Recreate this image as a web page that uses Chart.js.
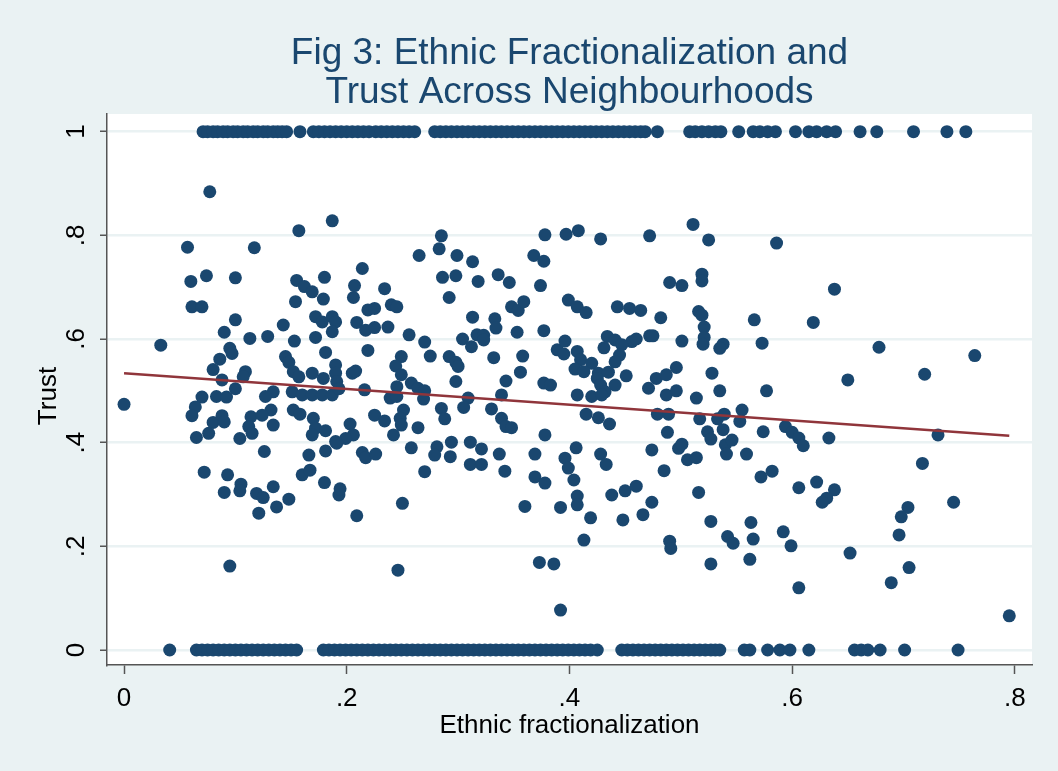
<!DOCTYPE html>
<html>
<head>
<meta charset="utf-8">
<title>Fig 3: Ethnic Fractionalization and Trust Across Neighbourhoods</title>
<script src="https://cdn.jsdelivr.net/npm/chart.js@4.4.1/dist/chart.umd.min.js"></script>
<style>
  html, body { margin: 0; padding: 0; background: #EAF2F3; }
  canvas { display: block; }
</style>
</head>
<body>
<canvas id="canvas" width="1058" height="771"></canvas>
<script>
const titleLines = ['Fig 3: Ethnic Fractionalization and', 'Trust Across Neighbourhoods'];
const xTitle = 'Ethnic fractionalization';
const yTitle = 'Trust';

const xTicks = [0, 0.2, 0.4, 0.6, 0.8];
const xTickLabels = ['0', '.2', '.4', '.6', '.8'];
const yTicks = [0, 0.2, 0.4, 0.6, 0.8, 1];
const yTickLabels = ['0', '.2', '.4', '.6', '.8', '1'];

// neighbourhoods where everyone trusts (trust = 1)
const oneX = [
  0.071, 0.075, 0.080, 0.084, 0.089, 0.093, 0.098, 0.102, 0.107, 0.111,
  0.116, 0.120, 0.125, 0.129, 0.134, 0.138, 0.142, 0.146, 0.158,
  0.170, 0.175, 0.180, 0.185, 0.190, 0.195, 0.200, 0.205, 0.210, 0.215,
  0.220, 0.226, 0.231, 0.236, 0.241, 0.246, 0.251, 0.256, 0.261,
  0.279, 0.284, 0.289, 0.294, 0.299, 0.304, 0.309, 0.314, 0.319, 0.324,
  0.329, 0.334, 0.339, 0.344, 0.349, 0.354, 0.359, 0.364, 0.369, 0.374,
  0.379, 0.384, 0.389, 0.394, 0.399, 0.404, 0.409, 0.414, 0.419, 0.424,
  0.429, 0.434, 0.439, 0.444, 0.449, 0.454, 0.459, 0.464, 0.468, 0.479,
  0.508, 0.513, 0.519, 0.525, 0.531, 0.536, 0.552,
  0.565, 0.571, 0.578, 0.585, 0.603, 0.615, 0.622, 0.631, 0.639,
  0.661, 0.676, 0.709, 0.739, 0.756
];

// neighbourhoods where nobody trusts (trust = 0)
const zeroX = [
  0.041,
  0.065, 0.070, 0.075, 0.080, 0.085, 0.090, 0.095, 0.100, 0.105, 0.110,
  0.115, 0.120, 0.125, 0.130, 0.135, 0.140, 0.145, 0.150, 0.155,
  0.179, 0.184, 0.189, 0.194, 0.199, 0.204, 0.209, 0.214, 0.219, 0.224,
  0.229, 0.234, 0.239, 0.244, 0.249, 0.254, 0.259, 0.264, 0.269, 0.274,
  0.279, 0.284, 0.289, 0.294, 0.299, 0.304, 0.309, 0.314, 0.319, 0.324,
  0.329, 0.334, 0.339, 0.344, 0.349, 0.354, 0.359, 0.364, 0.369, 0.374,
  0.379, 0.384, 0.389, 0.394, 0.399, 0.404, 0.409, 0.414, 0.419, 0.425,
  0.447, 0.452, 0.457, 0.462, 0.467, 0.472, 0.477, 0.482, 0.487, 0.492,
  0.497, 0.502, 0.507, 0.512, 0.517, 0.522, 0.527, 0.531, 0.535,
  0.557, 0.562, 0.578, 0.589, 0.598, 0.615,
  0.656, 0.662, 0.668, 0.679, 0.701, 0.749
];

// everything in between
const midX = [
  0.077, 0.157, 0.187, 0.057, 0.117, 0.060, 0.074, 0.100, 0.155, 0.162,
  0.169, 0.180, 0.061, 0.070, 0.154, 0.179, 0.100, 0.090, 0.113, 0.129,
  0.143, 0.153, 0.172, 0.172, 0.178, 0.187, 0.190, 0.187, 0.033, 0.095,
  0.097, 0.086, 0.080, 0.088, 0.109, 0.107, 0.100, 0.145, 0.148, 0.152,
  0.157, 0.181, 0.190, 0.169, 0.179, 0.190, 0.000, 0.070, 0.083, 0.092,
  0.134, 0.127, 0.151, 0.160, 0.169, 0.178, 0.187,

  0.064, 0.061, 0.080, 0.088, 0.090, 0.065, 0.076, 0.114, 0.112, 0.104,
  0.115, 0.132, 0.134, 0.124, 0.152, 0.158, 0.170, 0.172, 0.169, 0.181,
  0.190, 0.181, 0.126, 0.166, 0.072, 0.093, 0.090, 0.105, 0.104, 0.119,
  0.125, 0.134, 0.137, 0.148, 0.121, 0.160, 0.167, 0.180, 0.193, 0.095,

  0.285, 0.378, 0.397, 0.283, 0.265, 0.299, 0.313, 0.368, 0.377, 0.214,
  0.286, 0.298, 0.318, 0.336, 0.346, 0.374, 0.399, 0.207, 0.206, 0.234,
  0.292, 0.219, 0.225, 0.240, 0.245, 0.209, 0.217, 0.225, 0.237, 0.256,
  0.270, 0.313, 0.333, 0.334, 0.353, 0.377, 0.348, 0.354, 0.359, 0.304,
  0.312, 0.317, 0.323, 0.323, 0.219, 0.249, 0.244, 0.249, 0.275, 0.292,
  0.298, 0.300, 0.332, 0.358, 0.356, 0.343, 0.298, 0.377, 0.383, 0.389,
  0.395, 0.205, 0.208, 0.216, 0.245, 0.258, 0.264, 0.270, 0.191, 0.193,
  0.339, 0.309, 0.239,

  0.245, 0.269, 0.251, 0.248, 0.249, 0.225, 0.234, 0.203, 0.206, 0.199,
  0.191, 0.242, 0.264, 0.285, 0.288, 0.305, 0.330, 0.339, 0.343, 0.348,
  0.378, 0.214, 0.217, 0.226, 0.258, 0.281, 0.279, 0.293, 0.294, 0.311,
  0.321, 0.311, 0.321, 0.337, 0.342, 0.270, 0.369, 0.369, 0.378, 0.396,
  0.399, 0.194, 0.250, 0.209, 0.360, 0.392, 0.246, 0.373, 0.386, 0.392,

  0.408, 0.428, 0.472, 0.511, 0.525, 0.586, 0.490, 0.501, 0.519, 0.519,
  0.407, 0.415, 0.443, 0.454, 0.464, 0.482, 0.516, 0.519, 0.566, 0.521,
  0.521, 0.520, 0.501, 0.538, 0.535, 0.573, 0.472, 0.475, 0.456, 0.460,
  0.434, 0.441, 0.447, 0.445, 0.441, 0.431, 0.396, 0.407, 0.410, 0.420,
  0.405, 0.413, 0.426, 0.425, 0.435, 0.428, 0.441, 0.432, 0.451, 0.471,
  0.478, 0.487, 0.496, 0.487, 0.496, 0.528, 0.535, 0.577, 0.514, 0.407,
  0.420,

  0.429, 0.415, 0.426, 0.436, 0.479, 0.489, 0.488, 0.517, 0.524, 0.527,
  0.533, 0.539, 0.538, 0.555, 0.553, 0.574, 0.594, 0.600, 0.606, 0.406,
  0.404, 0.428, 0.433, 0.474, 0.498, 0.501, 0.506, 0.514, 0.540, 0.546,
  0.541, 0.559, 0.485, 0.572, 0.582, 0.606, 0.407, 0.407, 0.438, 0.450,
  0.460, 0.474, 0.419, 0.448, 0.466, 0.516, 0.527, 0.563, 0.565, 0.542,
  0.547, 0.413, 0.490, 0.491, 0.527, 0.562, 0.592, 0.599, 0.606,

  0.610, 0.633, 0.731, 0.717, 0.622, 0.638, 0.631, 0.627, 0.704, 0.698,
  0.745, 0.696, 0.652, 0.705, 0.689, 0.795, 0.638, 0.619, 0.678, 0.764,
  0.650, 0.719
];
const midY = [
  0.884, 0.809, 0.828, 0.777, 0.776, 0.711, 0.722, 0.718, 0.713, 0.701,
  0.691, 0.719, 0.662, 0.662, 0.672, 0.677, 0.637, 0.613, 0.601, 0.605,
  0.627, 0.596, 0.603, 0.643, 0.633, 0.643, 0.633, 0.614, 0.588, 0.582,
  0.572, 0.561, 0.541, 0.521, 0.537, 0.527, 0.504, 0.566, 0.555, 0.537,
  0.527, 0.574, 0.550, 0.534, 0.524, 0.534, 0.474, 0.488, 0.489, 0.488,
  0.498, 0.489, 0.498, 0.492, 0.492, 0.492, 0.492,

  0.469, 0.452, 0.439, 0.452, 0.440, 0.410, 0.418, 0.450, 0.431, 0.408,
  0.418, 0.463, 0.434, 0.453, 0.463, 0.455, 0.447, 0.428, 0.415, 0.423,
  0.402, 0.384, 0.383, 0.376, 0.343, 0.338, 0.304, 0.320, 0.307, 0.302,
  0.294, 0.315, 0.276, 0.291, 0.264, 0.338, 0.347, 0.323, 0.299, 0.162,

  0.799, 0.801, 0.802, 0.774, 0.761, 0.761, 0.749, 0.761, 0.750, 0.736,
  0.719, 0.722, 0.711, 0.724, 0.709, 0.703, 0.675, 0.703, 0.680, 0.697,
  0.680, 0.656, 0.659, 0.666, 0.662, 0.632, 0.617, 0.622, 0.623, 0.608,
  0.594, 0.642, 0.639, 0.621, 0.613, 0.616, 0.662, 0.655, 0.672, 0.600,
  0.585, 0.608, 0.607, 0.598, 0.578, 0.566, 0.548, 0.531, 0.567, 0.566,
  0.555, 0.547, 0.564, 0.567, 0.536, 0.519, 0.518, 0.515, 0.511, 0.579,
  0.571, 0.534, 0.538, 0.502, 0.508, 0.515, 0.505, 0.500, 0.518, 0.504,
  0.492, 0.486, 0.486,

  0.489, 0.484, 0.463, 0.447, 0.434, 0.453, 0.442, 0.436, 0.415, 0.408,
  0.399, 0.415, 0.429, 0.466, 0.446, 0.468, 0.465, 0.447, 0.431, 0.429,
  0.415, 0.381, 0.371, 0.378, 0.390, 0.392, 0.376, 0.373, 0.401, 0.401,
  0.388, 0.358, 0.358, 0.378, 0.345, 0.344, 0.378, 0.334, 0.322, 0.370,
  0.351, 0.311, 0.283, 0.259, 0.277, 0.275, 0.154, 0.169, 0.166, 0.077,

  0.809, 0.793, 0.799, 0.821, 0.791, 0.785, 0.709, 0.703, 0.725, 0.712,
  0.662, 0.651, 0.662, 0.659, 0.655, 0.641, 0.653, 0.646, 0.637, 0.623,
  0.603, 0.590, 0.596, 0.590, 0.582, 0.592, 0.606, 0.606, 0.595, 0.600,
  0.605, 0.598, 0.589, 0.569, 0.556, 0.583, 0.596, 0.576, 0.560, 0.553,
  0.542, 0.537, 0.534, 0.524, 0.536, 0.511, 0.511, 0.498, 0.529, 0.505,
  0.524, 0.531, 0.545, 0.492, 0.500, 0.534, 0.500, 0.500, 0.486, 0.492,
  0.489,

  0.492, 0.455, 0.448, 0.436, 0.455, 0.455, 0.420, 0.446, 0.421, 0.407,
  0.446, 0.455, 0.425, 0.463, 0.441, 0.421, 0.431, 0.420, 0.409, 0.390,
  0.328, 0.378, 0.358, 0.386, 0.389, 0.397, 0.367, 0.371, 0.396, 0.405,
  0.378, 0.378, 0.346, 0.334, 0.345, 0.313, 0.297, 0.280, 0.299, 0.307,
  0.316, 0.285, 0.255, 0.251, 0.261, 0.304, 0.248, 0.246, 0.214, 0.219,
  0.206, 0.212, 0.210, 0.196, 0.166, 0.175, 0.228, 0.201, 0.120,

  0.394, 0.409, 0.415, 0.360, 0.324, 0.309, 0.293, 0.285, 0.275, 0.257,
  0.285, 0.222, 0.187, 0.159, 0.130, 0.066, 0.696, 0.632, 0.584, 0.568,
  0.521, 0.532
];

// linear fit (lfit), drawn over the x range of the data
const fitX = [0, 0.795];
const fitY = [0.534, 0.4135];

const navy = '#1A476F';
const maroon = '#90353B';
const outerBg = '#EAF2F3';
const font = '"Liberation Sans", Arial, Helvetica, sans-serif';

const canvas = document.getElementById('canvas');
const ctx = canvas.getContext('2d');

const points = [
  ...midX.map((x, i) => ({ x: x, y: midY[i] })),
  ...oneX.map((x) => ({ x: x, y: 1 })),
  ...zeroX.map((x) => ({ x: x, y: 0 })),
];
const fitLine = fitX.map((x, i) => ({ x: x, y: fitY[i] }));

const backdrop = {
  id: 'backdrop',
  beforeDraw(chart) {
    const { ctx, chartArea: a } = chart;
    ctx.save();
    ctx.fillStyle = outerBg;
    ctx.fillRect(0, 0, chart.width, chart.height);
    ctx.fillStyle = '#ffffff';
    ctx.fillRect(a.left, a.top, a.right - a.left, a.bottom - a.top);
    ctx.restore();
  },
};

const stataText = {
  id: 'stataText',
  afterDraw(chart) {
    const { ctx, scales } = chart;
    const a = chart.chartArea;
    const cx = (a.left + a.right) / 2;
    ctx.save();
    ctx.textBaseline = 'alphabetic';
    ctx.textAlign = 'center';

    // title
    ctx.fillStyle = navy;
    ctx.font = '37px ' + font;
    ctx.fillText(titleLines[0], cx, 64);
    ctx.fillText(titleLines[1], cx, 103);

    // tick labels
    ctx.fillStyle = '#000';
    ctx.font = '26px ' + font;
    xTicks.forEach((v, i) => {
      ctx.fillText(xTickLabels[i], scales.x.getPixelForValue(v), 706);
    });
    yTicks.forEach((v, i) => {
      ctx.save();
      ctx.translate(75, scales.y.getPixelForValue(v));
      ctx.rotate(-Math.PI / 2);
      ctx.fillText(yTickLabels[i], 0, 9);
      ctx.restore();
    });

    // axis titles
    ctx.fillText(xTitle, cx, 733);
    ctx.save();
    ctx.translate(47, 396);
    ctx.rotate(-Math.PI / 2);
    ctx.fillText(yTitle, 0, 9);
    ctx.restore();

    ctx.restore();
  },
};

const chart = new Chart(ctx, {
  type: 'scatter',
  data: {
    datasets: [
      {
        type: 'line',
        data: fitLine,
        borderColor: maroon,
        borderWidth: 2.5,
        pointRadius: 0,
        fill: false,
        order: 0,
      },
      {
        data: points,
        backgroundColor: navy,
        borderColor: navy,
        borderWidth: 0,
        pointRadius: 6.5,
        pointHoverRadius: 6.5,
        order: 1,
      },
    ],
  },
  options: {
    responsive: false,
    animation: false,
    events: [],
    layout: { padding: { left: 0, top: 114, right: 26, bottom: 0 } },
    plugins: {
      legend: { display: false },
      tooltip: { enabled: false },
      title: { display: false },
    },
    scales: {
      x: {
        type: 'linear',
        min: -0.0153,
        max: 0.8154,
        afterBuildTicks: (s) => { s.ticks = xTicks.map((v) => ({ value: v })); },
        afterFit: (s) => { s.height = 106; },
        ticks: { display: false },
        grid: {
          drawOnChartArea: false,
          drawTicks: true,
          tickLength: 9,
          tickColor: '#555',
          tickWidth: 1.5,
        },
        border: { display: true, color: '#555', width: 1.5 },
      },
      y: {
        type: 'linear',
        min: -0.0289,
        max: 1.034,
        afterBuildTicks: (s) => { s.ticks = yTicks.map((v) => ({ value: v })); },
        afterFit: (s) => { s.width = 107; },
        ticks: { display: false },
        grid: {
          color: outerBg,
          lineWidth: 2.5,
          drawTicks: true,
          tickLength: 7,
          tickColor: '#555',
          tickWidth: 1.5,
        },
        border: { display: true, color: '#555', width: 1.5 },
      },
    },
  },
  plugins: [backdrop, stataText],
});
</script>
</body>
</html>
